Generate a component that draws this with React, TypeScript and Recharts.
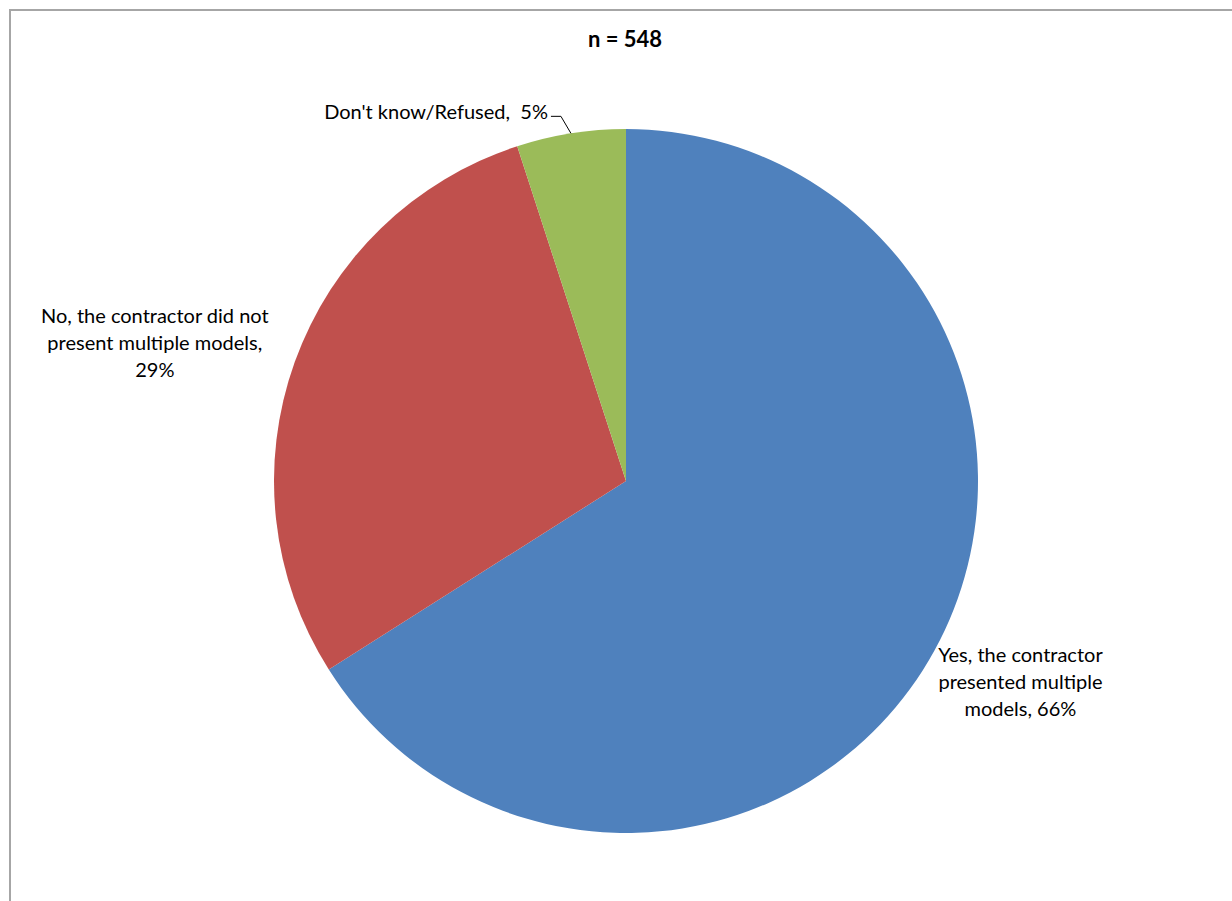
import { PieChart, Pie, Cell } from "recharts"

const categories = [
  "Yes, the contractor presented multiple models",
  "No, the contractor did not present multiple models",
  "Don't know/Refused",
]
const shares = [66, 29, 5]
const colors = ["#4F81BD", "#C0504D", "#9BBB59"]

const data = categories.map((name, i) => ({ name, value: shares[i] }))

// where each label sits relative to the slice's outer edge point
const placement = [
  { dx: 86, dy: 30, anchor: "middle", wrap: 19, sep: ", ", leader: false },
  { dx: -140, dy: -20, anchor: "middle", wrap: 26, sep: ", ", leader: false },
  { dx: -23, dy: -22, anchor: "end", wrap: 99, sep: ",\u00a0 ", leader: true },
]

const RAD = Math.PI / 180
const LINE_H = 27

function wrapText(text: string, max: number) {
  const words = text.split(" ")
  const lines: string[] = []
  let cur = ""
  for (const w of words) {
    const next = cur ? cur + " " + w : w
    if (next.length > max && cur) {
      lines.push(cur)
      cur = w
    } else {
      cur = next
    }
  }
  if (cur) lines.push(cur)
  return lines
}

function renderLabel(props: any) {
  const { cx, cy, midAngle, outerRadius, index, name, value } = props
  const p = placement[index]
  const ex = cx + outerRadius * Math.cos(-midAngle * RAD)
  const ey = cy + outerRadius * Math.sin(-midAngle * RAD)
  const x = ex + p.dx
  const y = ey + p.dy
  const lines = wrapText(`${name}${p.sep}${value}%`, p.wrap)
  const top = y - ((lines.length - 1) * LINE_H) / 2
  return (
    <g key={`lbl-${index}`}>
      {p.leader && (
        <polyline
          points={`${ex},${ey} ${ex - 10},${ey - 17} ${x + 3},${ey - 17}`}
          fill="none"
          stroke="#000"
          strokeWidth={1}
        />
      )}
      <text
        x={x}
        y={top}
        textAnchor={p.anchor as any}
        dominantBaseline="central"
        fontFamily="Lato, 'Open Sans', sans-serif"
        fontSize={20}
        fill="#000"
      >
        {lines.map((l, i) => (
          <tspan key={i} x={x} y={top + i * LINE_H}>
            {l}
          </tspan>
        ))}
      </text>
    </g>
  )
}

export default function App() {
  return (
    <div style={{ position: "absolute", left: 0, top: 0, width: 1232, height: 901, background: "#fff", overflow: "hidden" }}>
      <div
        style={{
          position: "absolute",
          left: 9,
          top: 9,
          width: 1240,
          height: 900,
          borderLeft: "2px solid #a6a6a6",
          borderTop: "2px solid #a6a6a6",
        }}
      />
      <div
        style={{
          position: "absolute",
          top: 25,
          width: "100%",
          textAlign: "center",
          fontFamily: "Lato, sans-serif",
          fontWeight: 700,
          fontSize: 22,
          paddingLeft: 18,
          boxSizing: "border-box",
        }}
      >
        n = 548
      </div>
      <PieChart
        width={1232}
        height={901}
        margin={{ top: 0, right: 0, bottom: 0, left: 0 }}
        style={{ position: "absolute", left: 0, top: 0 }}
      >
        <Pie
          data={data}
          dataKey="value"
          nameKey="name"
          cx={626}
          cy={481}
          outerRadius={352}
          startAngle={90}
          endAngle={-270}
          stroke="none"
          label={renderLabel}
          labelLine={false}
          isAnimationActive={false}
        >
          {data.map((d, i) => (
            <Cell key={d.name} fill={colors[i]} />
          ))}
        </Pie>
      </PieChart>
    </div>
  )
}
